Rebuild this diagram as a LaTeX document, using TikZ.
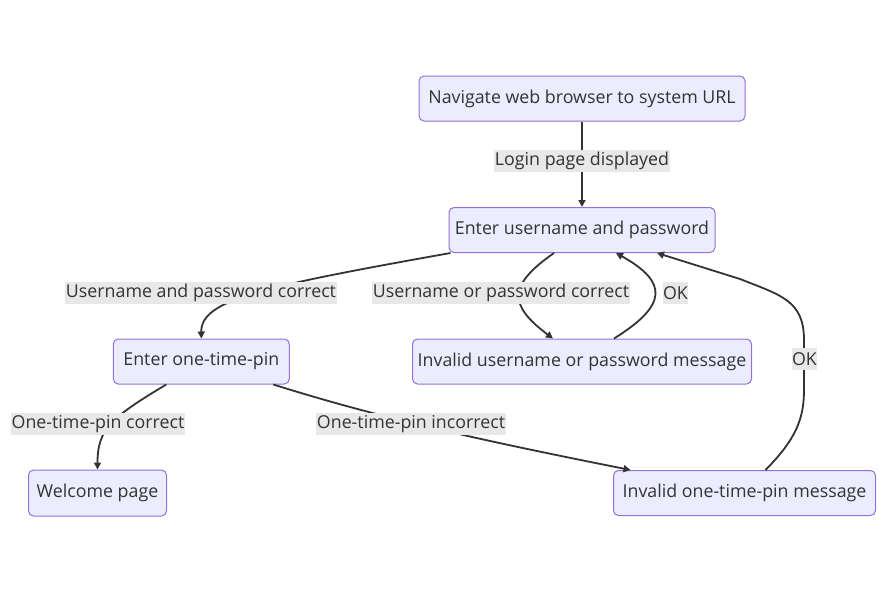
\documentclass[tikz,border=0pt]{standalone}
\usepackage{fontspec}
\setmainfont{Open Sans}
\usetikzlibrary{arrows.meta}
\definecolor{nodefill}{HTML}{ECECFF}
\definecolor{nodedraw}{HTML}{9370DB}
\definecolor{edgecol}{HTML}{333333}
\definecolor{labbg}{HTML}{E8E8E8}
\begin{document}
\begin{tikzpicture}[x=1pt,y=-1pt,
  box/.style={rectangle,rounded corners=5pt,draw=nodedraw,fill=nodefill,line width=1pt,inner sep=0pt,text=edgecol,font=\fontsize{17.8}{20}\selectfont,minimum height=45pt},
  elabel/.style={fill=labbg,inner xsep=0.5pt,inner ysep=0pt,minimum height=22pt,text=edgecol,font=\fontsize{17.8}{20}\selectfont},
  edge/.style={draw=edgecol,line width=1.8pt,-{Triangle[length=7pt,width=7pt]}}]
\useasboundingbox (0,0) rectangle (885,592);
% nodes
\node[box,minimum width=326pt] (nav) at (582,98.5) {Navigate web browser to system URL};
\node[box,minimum width=266pt] (user) at (582,230) {Enter username and password};
\node[box,minimum width=176pt] (otp) at (201.3,361.5) {Enter one-time-pin};
\node[box,minimum width=339pt] (invu) at (582,361.5) {Invalid username or password message};
\node[box,minimum width=138pt,minimum height=46pt] (welc) at (97.5,493) {Welcome page};
\node[box,minimum width=262pt] (invo) at (744.5,493) {Invalid one-time-pin message};
% edges
\draw[edge] (nav.south) -- (user.north);
\draw[edge] ([xshift=2pt]user.south west) .. controls (260,287) and (201,300) .. (otp.north);
\draw[edge] ([xshift=-28pt]user.south) .. controls (508,285) and (508,305) .. ([xshift=-29pt]invu.north);
\draw[edge] ([xshift=32pt]invu.north) .. controls (668,305) and (668,282) .. ([xshift=34pt]user.south);
\draw[edge] ([xshift=-35pt]otp.south) .. controls (110,418) and (97.5,430) .. (welc.north);
\draw[edge] ([xshift=72pt]otp.south) .. controls (380,418) and (480,440) .. ([xshift=-114pt]invo.north);
\draw[edge] ([xshift=21pt]invo.north) .. controls (795,440) and (804,420) .. (804,390) -- (804,340) .. controls (804,300) and (780,295) .. (740,279) -- ([xshift=75pt]user.south);
% labels
\node[elabel] (l1) at (582,161) {Login page displayed};
\node[elabel] (l2) at (201,293) {Username and password correct};
\node[elabel] (l3) at (501,293) {Username or password correct};
\node[elabel] (l4) at (675.5,293) {OK};
\node[elabel] (l5) at (804.5,359) {OK};
\node[elabel] (l6) at (98,424) {One-time-pin correct};
\node[elabel] (l7) at (411,424) {One-time-pin incorrect};
\end{tikzpicture}
\end{document}
